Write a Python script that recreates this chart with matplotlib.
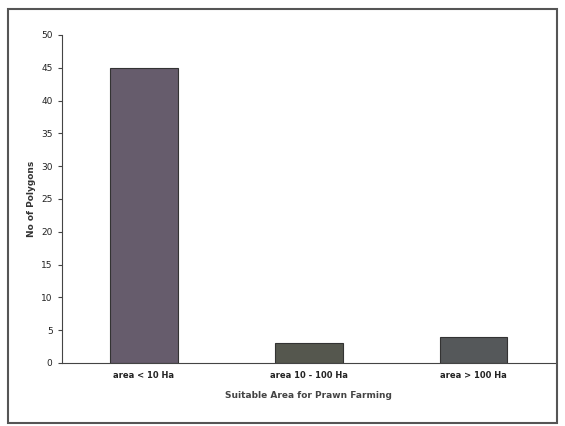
import matplotlib
matplotlib.use("Agg")
import matplotlib.pyplot as plt
from matplotlib.patches import Rectangle

categories = ["area < 10 Ha", "area 10 - 100 Ha", "area > 100 Ha"]
values = [45, 3, 4]
bar_colors = ["#665c6c", "#55574e", "#55585a"]

fig = plt.figure(figsize=(5.65, 4.26), dpi=100)
fig.patch.set_facecolor("white")
fig.add_artist(Rectangle((0.014, 0.008), 0.972, 0.970, transform=fig.transFigure,
                         fill=False, edgecolor="#555555", linewidth=1.5))

ax = fig.add_axes([0.109, 0.148, 0.875, 0.770])
x = range(len(categories))
ax.bar(x, values, width=0.41, color=bar_colors, edgecolor="#333333", linewidth=0.8)
ax.set_xlim(-0.5, 2.5)
ax.set_ylim(0, 50)
ax.set_yticks(range(0, 51, 5))
ax.set_xticks(list(x))
ax.set_xticklabels(categories)
for s in ["top", "right"]:
    ax.spines[s].set_visible(False)
ax.spines["left"].set_color("#444444")
ax.spines["bottom"].set_color("#444444")
ax.tick_params(axis="y", labelsize=6.5, length=3, color="#444444", labelcolor="#222222")
ax.tick_params(axis="x", labelsize=6, length=0, pad=6, labelcolor="#222222")
for lab in ax.get_xticklabels():
    lab.set_fontweight("bold")
ax.set_ylabel("No of Polygons", fontsize=6.5, fontweight="bold", color="#333333", labelpad=4)
ax.set_xlabel("Suitable Area for Prawn Farming", fontsize=6.5, fontweight="bold", color="#444444", labelpad=8)

fig.savefig("out.png", dpi=100)
